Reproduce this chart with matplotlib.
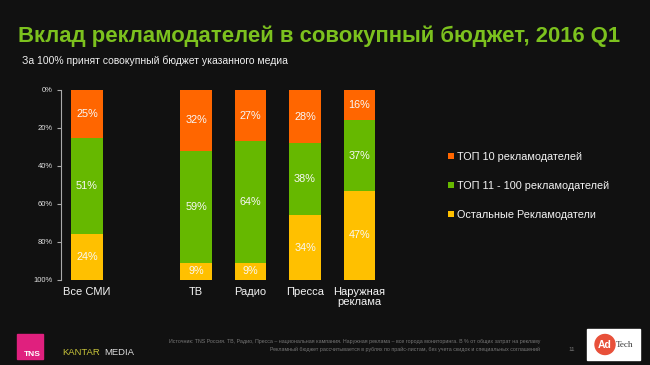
import numpy as np
import matplotlib
matplotlib.use("Agg")
from matplotlib import pyplot as plt
from matplotlib.patches import Rectangle, Circle

# данные
media = ["Все СМИ", "ТВ", "Радио", "Пресса", "Наружная\nреклама"]
top10 = [25, 32, 27, 28, 16]
top11_100 = [51, 59, 64, 38, 37]
others = [24, 9, 9, 34, 47]
series_names = ["ТОП 10 рекламодателей", "ТОП 11 - 100 рекламодателей", "Остальные Рекламодатели"]
y_ticks = [0, 20, 40, 60, 80, 100]

BG = "#111111"
colors = ["#FF6600", "#66B800", "#FFC000"]

plt.rcParams["font.family"] = ["Liberation Sans", "DejaVu Sans"]

fig = plt.figure(figsize=(6.5, 3.65), dpi=100, facecolor=BG)

# заголовок
fig.text(18 / 650, 1 - 42 / 365, "Вклад рекламодателей в совокупный бюджет, 2016 Q1",
         color="#7CC11E", fontsize=15.9, fontweight="bold", ha="left", va="baseline")
fig.text(22 / 650, 1 - 64 / 365, "За 100% принят совокупный бюджет указанного медиа",
         color="#F0F0F0", fontsize=7.5, ha="left", va="baseline")

# график
ax = fig.add_axes([61 / 650, 1 - 280 / 365, 339 / 650, 190 / 365])
ax.set_facecolor(BG)
x = np.array([0, 2, 3, 4, 5])
bottom = np.zeros(len(media))
bars = []
for vals, col in zip([top10, top11_100, others], colors):
    vals = np.array(vals)
    b = ax.bar(x, vals, width=0.57, bottom=bottom, color=col, edgecolor="none")
    bars.append(b)
    for xi, v, b0 in zip(x, vals, bottom):
        ax.text(xi, b0 + v / 2, f"{v}%", ha="center", va="center",
                color="#F8F8F8", fontsize=7.8)
    bottom += vals

ax.set_ylim(100, 0)
ax.set_xlim(-0.477, 5.743)
ax.set_yticks(y_ticks)
ax.set_yticklabels([f"{t}%" for t in y_ticks], fontsize=5.5, color="#E0E0E0")
ax.set_xticks(x)
ax.set_xticklabels(media, fontsize=8, color="#F5F5F5", linespacing=1.0)
ax.tick_params(axis="x", length=0, pad=5)
ax.tick_params(axis="y", length=3, color="#AAAAAA", width=0.8, pad=3)
for s in ["top", "right", "bottom"]:
    ax.spines[s].set_visible(False)
ax.spines["left"].set_color("#AAAAAA")
ax.spines["left"].set_linewidth(0.8)

# легенда
fig.legend(bars, series_names, loc="upper left", bbox_to_anchor=(448 / 650, 1 - 152 / 365),
           frameon=False, fontsize=7.8, labelcolor="#F5F5F5", handlelength=0.55,
           handleheight=0.55, handletextpad=0.3, labelspacing=1.75, borderpad=0,
           borderaxespad=0)

# подвал
fig.patches.append(Rectangle((17 / 650, 1 - 359 / 365), 26 / 650, 25 / 365,
                             transform=fig.transFigure, color="#E0207E", zorder=-1))
fig.text(24 / 650, 1 - 356 / 365, "TNS", color="white", fontsize=6, fontweight="bold",
         ha="left", va="baseline")
fig.text(62 / 650, 1 - 355 / 365, "KANTAR", color="#C8C43A", fontsize=6.8,
         ha="left", va="baseline")
fig.text(104 / 650, 1 - 355 / 365, "MEDIA", color="#DDDDDD", fontsize=6.8,
         ha="left", va="baseline")
fig.text(540 / 650, 1 - 343 / 365,
         "Источник: TNS Россия. ТВ, Радио, Пресса – национальная кампания. "
         "Наружная реклама – все города мониторинга. В % от общих затрат на рекламу",
         color="#777777", fontsize=3.8, ha="right", va="baseline")
fig.text(540 / 650, 1 - 351 / 365,
         "Рекламный бюджет рассчитывается в рублях по прайс-листам, "
         "без учета скидок и специальных соглашений",
         color="#777777", fontsize=3.8, ha="right", va="baseline")
fig.text(572 / 650, 1 - 351 / 365, "11", color="#777777", fontsize=4.5,
         ha="center", va="baseline")

fig.patches.append(Rectangle((587 / 650, 1 - 360 / 365), 53 / 650, 31 / 365,
                             transform=fig.transFigure, color="white", zorder=-1))
logo = fig.add_axes([587 / 650, 1 - 360 / 365, 53 / 650, 31 / 365])
logo.set_xlim(0, 53)
logo.set_ylim(0, 31)
logo.set_aspect("equal")
logo.axis("off")
logo.add_patch(Circle((18, 15.5), 10, color="#E8503A"))
logo.text(18, 15, "Ad", color="white", fontsize=7.5, fontweight="bold",
          ha="center", va="center")
logo.text(29, 15, "Tech", color="#333333", fontsize=6.5, family="Liberation Serif",
          ha="left", va="center")

plt.savefig("out.png", dpi=100, facecolor=BG)
